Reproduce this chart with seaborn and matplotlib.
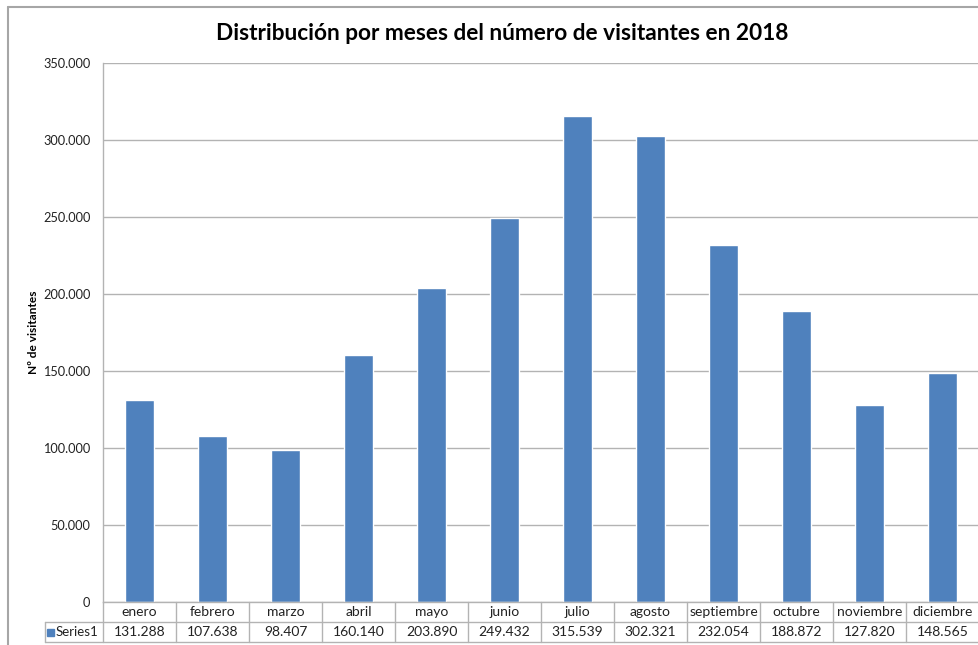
import matplotlib
matplotlib.use("Agg")
import matplotlib.pyplot as plt
from matplotlib.lines import Line2D
from matplotlib.patches import Rectangle
import seaborn as sns
import pandas as pd

meses = ["enero", "febrero", "marzo", "abril", "mayo", "junio", "julio",
         "agosto", "septiembre", "octubre", "noviembre", "diciembre"]
visitantes = [131288, 107638, 98407, 160140, 203890, 249432, 315539,
              302321, 232054, 188872, 127820, 148565]
serie = "Series1"
titulo = "Distribución por meses del número de visitantes en 2018"
etiqueta_y = "Nº de visitantes"
y_ticks = [0, 50000, 100000, 150000, 200000, 250000, 300000, 350000]

def miles(v):
    return f"{v:,}".replace(",", ".")

sns.set_theme(style="white")
plt.rcParams["font.family"] = ["Lato", "DejaVu Sans"]

W, H = 979, 645
fig = plt.figure(figsize=(W / 100, H / 100), dpi=100)
fig.patch.set_facecolor("white")

# plot area in pixel terms
L, R, T, B = 103, 979, 63, 602
ax = fig.add_axes([L / W, 1 - B / H, (R - L) / W, (B - T) / H])

df = pd.DataFrame({"mes": meses, "visitantes": visitantes})
sns.barplot(data=df, x="mes", y="visitantes", color="#4F81BD",
            saturation=1, width=0.4, ax=ax)

grid_c = "#b3b3b3"
text_c = "#222222"
ax.set_ylim(0, 350000)
ax.set_xlim(-0.5, len(meses) - 0.5)
ax.set_yticks(y_ticks)
ax.set_yticklabels([miles(v) for v in y_ticks], fontsize=9.2, color=text_c)
ax.tick_params(axis="y", length=0, pad=9)
ax.set_xticks([])
ax.set_xlabel("")
ax.set_ylabel("")
ax.yaxis.grid(True, color=grid_c, linewidth=1)
ax.set_axisbelow(True)
for s in ["top", "right"]:
    ax.spines[s].set_visible(False)
for s in ["left", "bottom"]:
    ax.spines[s].set_color(grid_c)
    ax.spines[s].set_linewidth(1)

# data table under the axis
def fy(py):
    return 1 - py / H

def fx(px):
    return px / W

cell_w = (R - L) / len(meses)
row1_mid, row2_mid = 612, 632
line_kw = dict(color=grid_c, linewidth=1, transform=fig.transFigure)
for i in range(len(meses) + 1):
    x = L + i * cell_w
    fig.add_artist(Line2D([fx(x), fx(x)], [fy(602), fy(642)], **line_kw))
fig.add_artist(Line2D([fx(45), fx(R)], [fy(622), fy(622)], **line_kw))
fig.add_artist(Line2D([fx(45), fx(R)], [fy(642), fy(642)], **line_kw))
fig.add_artist(Line2D([fx(45), fx(45)], [fy(622), fy(642)], **line_kw))

for i, (m, v) in enumerate(zip(meses, visitantes)):
    cx = L + (i + 0.5) * cell_w
    fig.text(fx(cx), fy(row1_mid), m, ha="center", va="center",
             fontsize=10, color=text_c)
    fig.text(fx(cx), fy(row2_mid), miles(v), ha="center", va="center",
             fontsize=10, color=text_c)

fig.add_artist(Rectangle((fx(47), fy(636)), 7 / W, 7 / H,
                         transform=fig.transFigure, color="#4F81BD"))
fig.text(fx(56), fy(row2_mid), serie, ha="left", va="center",
         fontsize=9.5, color=text_c)

# chart frame
frame_c = "#a6a6a6"
fig.add_artist(Line2D([fx(8), fx(W)], [fy(7), fy(7)], color=frame_c,
                      linewidth=1.5, transform=fig.transFigure))
fig.add_artist(Line2D([fx(8), fx(8)], [fy(7), fy(H)], color=frame_c,
                      linewidth=1.5, transform=fig.transFigure))

fig.text(fx(502), fy(34), titulo, ha="center", va="center",
         fontsize=16.3, fontweight="bold", color="black")
fig.text(fx(34), fy(332), etiqueta_y, ha="center", va="center",
         rotation=90, fontsize=8.6, fontweight="bold", color="black")

fig.savefig("out.png", dpi=100)
